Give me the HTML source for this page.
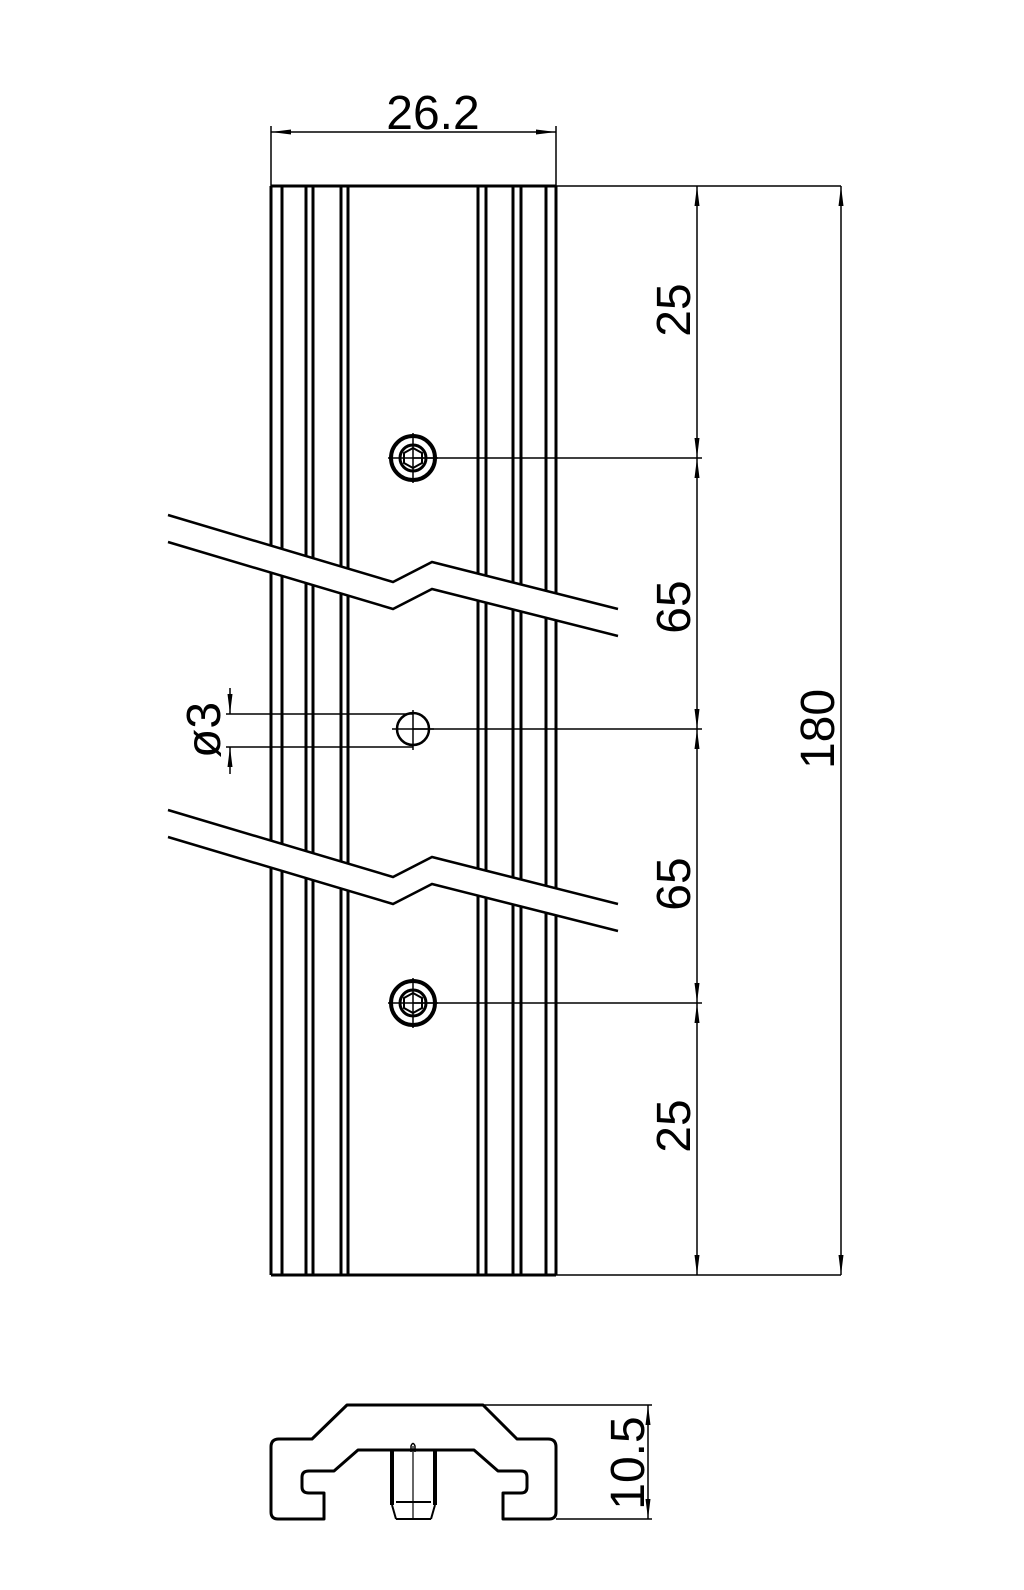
<!DOCTYPE html>
<html><head><meta charset="utf-8"><style>
html,body{margin:0;padding:0;background:#fff;}
svg{display:block;}
text{font-family:"Liberation Sans",sans-serif;font-size:48px;fill:#000;}
</style></head><body>
<svg width="1024" height="1590" viewBox="0 0 1024 1590" xmlns="http://www.w3.org/2000/svg">
<defs>
<marker id="a" viewBox="0 0 20 8" refX="20" refY="4" markerWidth="20" markerHeight="8" markerUnits="userSpaceOnUse" orient="auto-start-reverse">
<path d="M0,1.5 L20,4 L0,6.5 Z" fill="#000"/></marker>
</defs>
<g stroke="#000" fill="none">
<g stroke-width="3">
<line x1="271" y1="186" x2="271" y2="1275"/>
<line x1="282" y1="186" x2="282" y2="1275"/>
<line x1="306" y1="186" x2="306" y2="1275"/>
<line x1="313" y1="186" x2="313" y2="1275"/>
<line x1="341" y1="186" x2="341" y2="1275"/>
<line x1="348" y1="186" x2="348" y2="1275"/>
<line x1="478" y1="186" x2="478" y2="1275"/>
<line x1="486" y1="186" x2="486" y2="1275"/>
<line x1="513" y1="186" x2="513" y2="1275"/>
<line x1="521" y1="186" x2="521" y2="1275"/>
<line x1="546" y1="186" x2="546" y2="1275"/>
<line x1="556" y1="186" x2="556" y2="1275"/>
<line x1="271" y1="186" x2="556" y2="186"/>
<line x1="271" y1="1275" x2="556" y2="1275"/>
</g>
<g stroke-width="2.5">
<polygon points="168,515 393,582 432,562 618,609 618,636 432,589 393,609 168,542" fill="#fff" stroke="none"/>
<polyline points="168,515 393,582 432,562 618,609"/>
<polyline points="168,542 393,609 432,589 618,636"/>
<polygon points="168,810 393,877 432,857 618,904 618,931 432,884 393,904 168,837" fill="#fff" stroke="none"/>
<polyline points="168,810 393,877 432,857 618,904"/>
<polyline points="168,837 393,904 432,884 618,931"/>
</g>
<g stroke-width="1.5">
<line x1="556" y1="186" x2="841" y2="186"/>
<line x1="556" y1="1275" x2="841" y2="1275"/>
<line x1="271" y1="126" x2="271" y2="186"/>
<line x1="556" y1="126" x2="556" y2="186"/>
<line x1="271" y1="132" x2="556" y2="132" marker-start="url(#a)" marker-end="url(#a)"/>
<line x1="413" y1="458" x2="702" y2="458"/>
<line x1="413" y1="729" x2="702" y2="729"/>
<line x1="413" y1="1003" x2="702" y2="1003"/>
<line x1="697" y1="186" x2="697" y2="458" marker-start="url(#a)" marker-end="url(#a)"/>
<line x1="697" y1="458" x2="697" y2="729" marker-start="url(#a)" marker-end="url(#a)"/>
<line x1="697" y1="729" x2="697" y2="1003" marker-start="url(#a)" marker-end="url(#a)"/>
<line x1="697" y1="1003" x2="697" y2="1275" marker-start="url(#a)" marker-end="url(#a)"/>
<line x1="841" y1="186" x2="841" y2="1275" marker-start="url(#a)" marker-end="url(#a)"/>
<line x1="226" y1="714" x2="413" y2="714"/>
<line x1="226" y1="747" x2="413" y2="747"/>
<line x1="230" y1="688" x2="230" y2="714" marker-end="url(#a)"/>
<line x1="230" y1="774" x2="230" y2="747" marker-end="url(#a)"/>
<line x1="413" y1="710" x2="413" y2="750"/>
<line x1="392" y1="729" x2="434" y2="729"/>
</g>
<circle cx="413" cy="729" r="16" stroke-width="2.5" fill="none"/>
<g stroke-width="4">
<circle cx="413" cy="458" r="22"/>
<circle cx="413" cy="458" r="13" stroke-width="3"/>
<polygon points="413,448 422,453 422,463 413,468 404,463 404,453" stroke-width="2"/>
<circle cx="413" cy="1003" r="22"/>
<circle cx="413" cy="1003" r="13" stroke-width="3"/>
<polygon points="413,993 422,998 422,1008 413,1013 404,1008 404,998" stroke-width="2"/>
</g>
<g stroke-width="1.5">
<line x1="388" y1="458" x2="438" y2="458"/><line x1="413" y1="433" x2="413" y2="483"/>
<line x1="388" y1="1003" x2="438" y2="1003"/><line x1="413" y1="978" x2="413" y2="1028"/>
</g>
<path d="M347,1405 L483,1405 L517,1439 L548,1439 Q556,1439 556,1447 L556,1512 Q556,1519 549,1519 L503,1519 L503,1493 L521,1493 Q527,1493 527,1487 L527,1477 Q527,1471 521,1471 L498,1471 L474,1450 L358,1450 L334,1471 L309,1471 Q302,1471 302,1477 L302,1487 Q302,1493 309,1493 L324,1493 L324,1519 L278,1519 Q271,1519 271,1512 L271,1447 Q271,1439 279,1439 L312,1439 Z" stroke-width="3" stroke-linejoin="round"/>
<g stroke-width="4">
<line x1="392" y1="1451" x2="392" y2="1505"/>
<line x1="435" y1="1451" x2="435" y2="1505"/>
</g>
<g stroke-width="2">
<line x1="392" y1="1505" x2="396" y2="1519"/>
<line x1="435" y1="1505" x2="431" y2="1519"/>
<line x1="396" y1="1502" x2="431" y2="1502"/>
<line x1="396" y1="1519" x2="431" y2="1519"/>
</g>
<path d="M411,1452 L411,1446 Q413,1441 415,1446 L415,1452" stroke-width="1.5"/>
<line x1="413" y1="1446" x2="413" y2="1519" stroke-width="1.2"/>
<g stroke-width="1.5">
<line x1="483" y1="1405" x2="652" y2="1405"/>
<line x1="556" y1="1519" x2="652" y2="1519"/>
<line x1="648" y1="1405" x2="648" y2="1519" marker-start="url(#a)" marker-end="url(#a)"/>
</g>
</g>
<text x="433" y="129" text-anchor="middle">26.2</text>
<text transform="translate(690,310) rotate(-90)" text-anchor="middle">25</text>
<text transform="translate(690,607) rotate(-90)" text-anchor="middle">65</text>
<text transform="translate(690,884) rotate(-90)" text-anchor="middle">65</text>
<text transform="translate(690,1126) rotate(-90)" text-anchor="middle">25</text>
<text transform="translate(834,729) rotate(-90)" text-anchor="middle">180</text>
<text transform="translate(220,730) rotate(-90)" text-anchor="middle">ø3</text>
<text transform="translate(644,1463) rotate(-90)" text-anchor="middle">10.5</text>
</svg>
</body></html>
